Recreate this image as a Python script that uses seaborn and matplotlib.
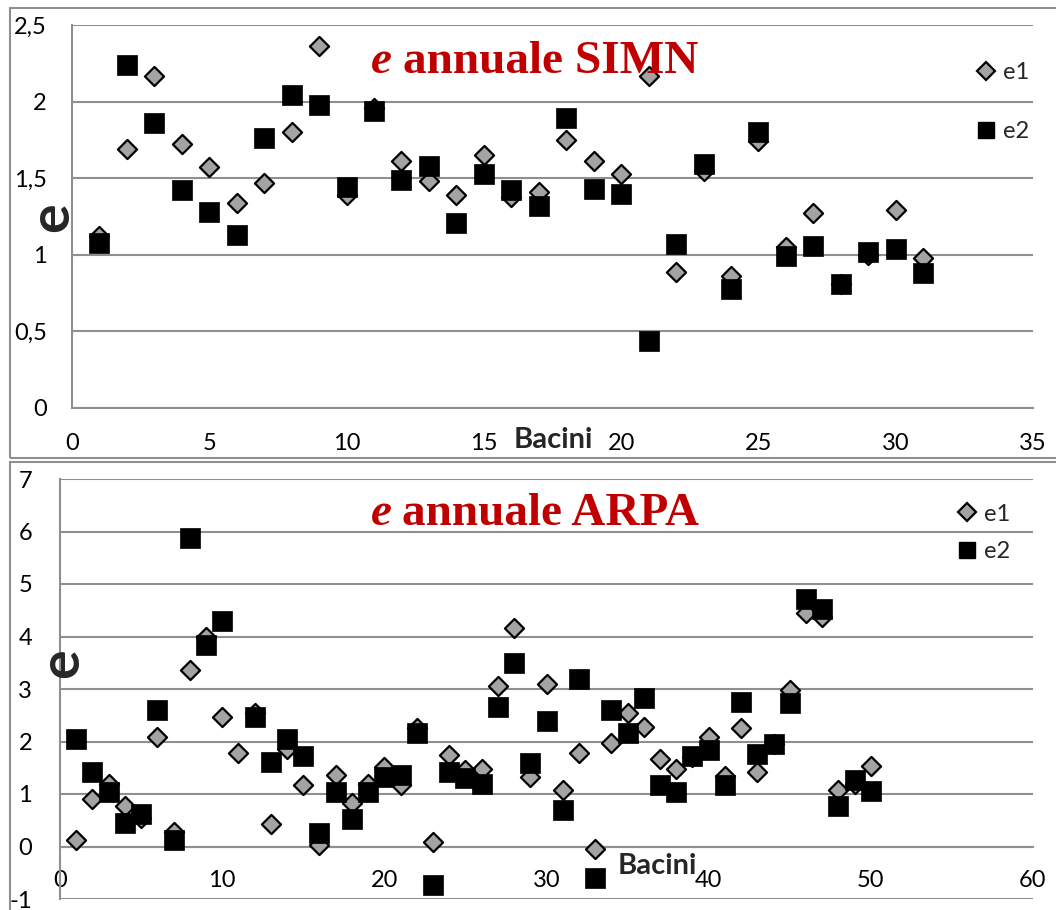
import numpy as np
import pandas as pd
import matplotlib
matplotlib.use("Agg")
import matplotlib.pyplot as plt
import seaborn as sns
from matplotlib.ticker import FuncFormatter, MultipleLocator
from matplotlib.lines import Line2D

# valori
simn_bacini = list(range(1, 32))
simn_e1 = [1.12, 1.69, 2.17, 1.72, 1.57, 1.34, 1.47, 1.80, 2.36, 1.39,
           1.96, 1.61, 1.48, 1.39, 1.65, 1.38, 1.41, 1.75, 1.61, 1.53,
           2.17, 0.89, 1.55, 0.86, 1.74, 1.05, 1.27, 0.81, 1.00, 1.29, 0.98]
simn_e2 = [1.08, 2.24, 1.86, 1.42, 1.28, 1.13, 1.76, 2.04, 1.98, 1.44,
           1.94, 1.49, 1.58, 1.21, 1.53, 1.42, 1.32, 1.89, 1.43, 1.40,
           0.44, 1.07, 1.59, 0.78, 1.80, 0.99, 1.06, 0.81, 1.02, 1.04, 0.88]

arpa_bacini = list(range(1, 51))
arpa_e1 = [0.12, 0.90, 1.20, 0.77, 0.55, 2.08, 0.27, 3.37, 4.00, 2.46,
           1.79, 2.55, 0.42, 1.85, 1.18, 0.03, 1.37, 0.82, 1.19, 1.51,
           1.18, 2.25, 0.08, 1.75, 1.45, 1.47, 3.05, 4.16, 1.32, 3.10,
           1.08, 1.78, -0.05, 1.97, 2.55, 2.27, 1.67, 1.47, 1.70, 2.08,
           1.35, 2.25, 1.42, 1.95, 2.98, 4.45, 4.37, 1.08, 1.20, 1.54]
arpa_e2 = [2.05, 1.42, 1.03, 0.45, 0.62, 2.60, 0.13, 5.88, 3.83, 4.30,
           np.nan, 2.47, 1.61, 2.05, 1.73, 0.25, 1.03, 0.53, 1.03, 1.33,
           1.36, 2.17, -0.73, 1.42, 1.30, 1.20, 2.65, 3.50, 1.60, 2.40,
           0.69, 3.20, -0.60, 2.60, 2.17, 2.82, 1.17, 1.03, 1.73, 1.83,
           1.18, 2.76, 1.77, 1.95, 2.73, 4.72, 4.52, 0.78, 1.26, 1.05]

sns.set_style("white")
plt.rcParams['font.family'] = ['Lato', 'DejaVu Sans']

W, H = 1056, 910
fig = plt.figure(figsize=(W / 100, H / 100), dpi=100)

GRID = '#8f8f8f'
GRAY = '#a3a3a3'
RED = '#c00000'
FS = 17


def px(x0, y0, x1, y1):
    # rettangolo in pixel -> coordinate figura
    return [x0 / W, 1 - y1 / H, (x1 - x0) / W, (y1 - y0) / H]


def frame(y0, y1):
    fig.add_artist(plt.Rectangle((10 / W, 1 - y1 / H), 1.1, (y1 - y0) / H,
                                 transform=fig.transFigure, fill=False,
                                 edgecolor=GRID, lw=1.5, clip_on=False))


def draw(ax, x, e1, e2):
    df = pd.DataFrame({'x': x, 'e1': e1, 'e2': e2})
    sns.scatterplot(data=df, x='x', y='e1', ax=ax, marker='D', s=95,
                    color=GRAY, edgecolor='black', linewidth=1.6,
                    label='e1', zorder=3, clip_on=False)
    sns.scatterplot(data=df, x='x', y='e2', ax=ax, marker='s', s=210,
                    color='black', edgecolor='black', linewidth=0.5,
                    label='e2', zorder=4, clip_on=False)


def style(ax, ystep, ypad, xpad):
    for s in ['top', 'right']:
        ax.spines[s].set_visible(False)
    for s in ['left', 'bottom']:
        ax.spines[s].set_color(GRID)
        ax.spines[s].set_linewidth(1.5)
    ax.yaxis.grid(True, color=GRID, lw=1.5)
    ax.set_axisbelow(True)
    ax.yaxis.set_major_locator(MultipleLocator(ystep))
    ax.yaxis.set_major_formatter(FuncFormatter(lambda v, p: f"{v:g}".replace('.', ',')))
    ax.tick_params(axis='both', direction='out', length=8, width=1.5,
                   color=GRID, labelsize=FS, labelcolor='black')
    ax.tick_params(axis='y', pad=ypad)
    ax.tick_params(axis='x', pad=xpad)
    ax.set_xlabel('')
    ax.set_ylabel('')


def title(ax, xs, yb, name):
    kw = dict(transform=ax.transAxes, color=RED, fontsize=34,
              family='Liberation Serif', fontweight='bold', va='baseline')
    ax.text(xs, yb, 'e', ha='right', style='italic', **kw)
    ax.text(xs + 0.011, yb, 'annuale ' + name, ha='left', **kw)


def legend(ax, bx, by, spacing):
    h = [Line2D([], [], ls='', marker='D', ms=9, mfc=GRAY, mec='black', mew=1.6),
         Line2D([], [], ls='', marker='s', ms=12, mfc='black', mec='black')]
    ax.legend(h, ['e1', 'e2'], loc='center left', bbox_to_anchor=(bx, by),
              bbox_transform=fig.transFigure, frameon=False, fontsize=FS,
              handlelength=0.8, handletextpad=0.3, labelspacing=spacing,
              borderpad=0, borderaxespad=0)


# pannello SIMN
frame(8, 458)
ax1 = fig.add_axes(px(72, 25, 1033, 408))
draw(ax1, simn_bacini, simn_e1, simn_e2)
ax1.set_xlim(0, 35)
ax1.set_ylim(0, 2.5)
ax1.xaxis.set_major_locator(MultipleLocator(5))
style(ax1, 0.5, 10, 10)
title(ax1, 0.333, 0.875, 'SIMN')
legend(ax1, 977 / W, 1 - 102 / H, 1.6)
fig.text(553 / W, 1 - 440 / H, 'Bacini', ha='center', va='center',
         fontsize=21, fontweight='bold')
fig.text(52 / W, 1 - 217 / H, 'e', ha='center', va='center', rotation=90,
         fontsize=40, fontweight='bold')

# pannello ARPA
frame(462, 915)
ax2 = fig.add_axes(px(60, 479, 1033, 899))
draw(ax2, arpa_bacini, arpa_e1, arpa_e2)
ax2.set_xlim(0, 60)
ax2.set_ylim(-1, 7)
ax2.xaxis.set_major_locator(MultipleLocator(10))
ax2.spines['bottom'].set_position(('data', 0))
style(ax2, 1, 12, 9)
title(ax2, 0.341, 0.890, 'ARPA')
legend(ax2, 958 / W, 1 - 533 / H, 0.7)
fig.text(657 / W, 1 - 866 / H, 'Bacini', ha='center', va='center',
         fontsize=21, fontweight='bold')
fig.text(62 / W, 1 - 663 / H, 'e', ha='center', va='center', rotation=90,
         fontsize=40, fontweight='bold')

fig.savefig('out.png', dpi=100)
